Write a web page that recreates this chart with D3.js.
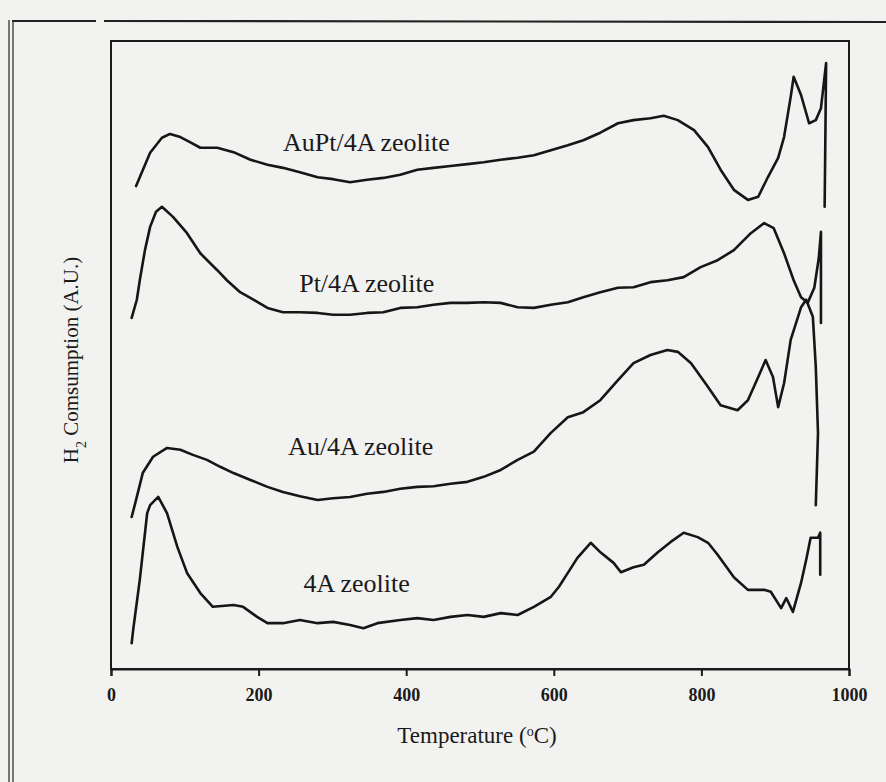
<!DOCTYPE html>
<html>
<head>
<meta charset="utf-8">
<script src="https://cdn.jsdelivr.net/npm/d3@7/dist/d3.min.js"></script>
<style>
  html, body { margin: 0; padding: 0; background: #f2f2f0; }
  svg { display: block; }
</style>
</head>
<body>
<div id="chart"></div>
<script>
// ---- data (temperature °C, H2 consumption A.U.) ----
const seriesNames = ["AuPt/4A zeolite", "Pt/4A zeolite", "Au/4A zeolite", "4A zeolite"];

const auptData = [
  [34,76.9],[39,78.3],[53,82.2],[69,84.6],[80,85.2],[94,84.7],[107,83.9],[121,83.0],
  [144,83.0],[166,82.3],[189,81.1],[212,80.3],[233,79.8],[256,79.1],[280,78.3],[301,78.0],
  [324,77.5],[347,77.9],[369,78.2],[392,78.7],[415,79.5],[437,79.8],[460,80.1],[483,80.4],
  [505,80.7],[528,81.1],[551,81.4],[573,81.8],[596,82.6],[619,83.4],[640,84.2],[663,85.4],
  [687,86.9],[708,87.4],[731,87.7],[749,88.1],[768,87.4],[790,85.8],[809,83.1],[826,79.5],
  [844,76.3],[863,74.7],[877,75.2],[890,78.3],[904,81.4],[912,84.7],[921,91.1],[925,94.3],
  [935,91.4],[946,86.9],[955,87.4],[962,89.3],[969,96.5],[967,73.6]
];

const ptData = [
  [28,55.9],[35,58.8],[39,61.9],[46,66.7],[53,70.4],[61,72.8],[69,73.6],[84,72.0],
  [103,69.4],[121,66.2],[144,63.5],[157,61.9],[175,60.0],[193,58.8],[212,57.5],[233,56.8],
  [256,56.8],[280,56.7],[301,56.4],[324,56.4],[347,56.7],[369,56.8],[392,57.5],[415,57.6],
  [437,58.0],[460,58.3],[483,58.3],[505,58.4],[528,58.3],[551,57.6],[573,57.5],[596,58.0],
  [619,58.4],[640,59.2],[663,60.0],[687,60.7],[708,60.8],[731,61.6],[754,61.9],[776,62.4],
  [799,64.0],[822,65.1],[844,66.7],[867,69.4],[885,71.0],[898,70.2],[912,66.2],[925,61.9],
  [935,59.2],[944,58.3],[953,60.7],[959,65.4],[962,69.6],[962,55.1]
];

const auData = [
  [28,24.2],[35,27.4],[43,31.2],[57,33.8],[76,35.2],[94,34.9],[111,34.1],[130,33.3],
  [148,32.2],[166,31.2],[189,30.1],[212,29.0],[233,28.2],[256,27.5],[280,26.9],[301,27.2],
  [324,27.4],[347,27.9],[369,28.2],[392,28.7],[415,29.0],[437,29.1],[460,29.5],[483,29.8],
  [505,30.6],[528,31.7],[551,33.3],[573,34.6],[596,37.6],[619,40.1],[640,40.9],[663,42.8],
  [687,46.0],[708,48.7],[731,50.0],[754,50.8],[768,50.5],[786,48.7],[809,44.9],[826,42.0],
  [849,41.2],[863,42.8],[877,46.5],[887,49.2],[897,46.5],[904,41.7],[912,45.5],[921,52.4],
  [935,57.6],[942,58.8],[951,56.1],[955,48.1],[958,37.6],[955,26.1]
];

const zeoData = [
  [28,4.1],[30,6.2],[39,14.2],[49,24.8],[53,26.1],[64,27.4],[76,24.8],[90,19.4],
  [103,15.3],[121,12.1],[138,9.9],[166,10.2],[179,9.9],[198,8.3],[212,7.3],[233,7.3],
  [256,7.8],[280,7.3],[301,7.5],[324,7.0],[342,6.5],[361,7.3],[392,7.8],[415,8.1],
  [437,7.8],[460,8.3],[483,8.6],[505,8.3],[528,8.9],[551,8.6],[573,9.9],[596,11.5],
  [607,13.1],[619,15.3],[632,17.7],[650,20.1],[664,18.5],[681,16.9],[691,15.4],[708,16.2],
  [722,16.6],[741,18.6],[758,20.2],[776,21.7],[795,21.0],[809,20.1],[822,18.2],[844,14.6],
  [863,12.6],[885,12.6],[894,12.3],[908,9.7],[915,11.3],[924,9.1],[935,13.7],[942,17.4],
  [948,20.9],[958,20.9],[961,21.7],[961,15.0]
];

// label anchor positions (temperature, A.U.) for the series names
const labelPos = [[233,82.5],[255,60.1],[240,34.0],[261,12.3]];

const xTicks = [0, 200, 400, 600, 800, 1000];
const xTitle = "Temperature (";
const yTitle = "Comsumption (A.U.)";

// ---- layout ----
const W = 886, H = 782;
const plot = { left: 111, right: 849, top: 41, bottom: 669 };

const svg = d3.select("#chart").append("svg")
  .attr("width", W).attr("height", H)
  .style("background", "#f2f2f0");

const x = d3.scaleLinear().domain([0, 1000]).range([plot.left, plot.right]);
const y = d3.scaleLinear().domain([0, 100]).range([plot.bottom, plot.top]);

// outer scan frame
svg.append("line").attr("x1", 12).attr("x2", 96).attr("y1", 21).attr("y2", 21)
  .attr("stroke", "#222").attr("stroke-width", 2.2);
svg.append("line").attr("x1", 104).attr("x2", 886).attr("y1", 21).attr("y2", 22)
  .attr("stroke", "#222").attr("stroke-width", 2.2);
svg.append("line").attr("x1", 9).attr("x2", 9).attr("y1", 20).attr("y2", H)
  .attr("stroke", "#333").attr("stroke-width", 1.3);
svg.append("line").attr("x1", 13).attr("x2", 13).attr("y1", 20).attr("y2", H)
  .attr("stroke", "#333").attr("stroke-width", 1.3);

// plot frame
svg.append("rect")
  .attr("x", plot.left).attr("y", plot.top)
  .attr("width", plot.right - plot.left).attr("height", plot.bottom - plot.top)
  .attr("fill", "none").attr("stroke", "#1a1a1a").attr("stroke-width", 2);

// x axis
const xAxis = d3.axisBottom(x).tickValues(xTicks).tickSize(7).tickPadding(12)
  .tickFormat(d3.format("d"));
const gx = svg.append("g").attr("transform", `translate(0,${plot.bottom})`).call(xAxis);
gx.select(".domain").attr("stroke", "#1a1a1a").attr("stroke-width", 2);
gx.selectAll(".tick line").attr("stroke", "#1a1a1a").attr("stroke-width", 2);
gx.selectAll(".tick text")
  .attr("fill", "#1a1a1a")
  .style("font-family", "'Liberation Serif', 'Times New Roman', serif")
  .style("font-weight", "bold")
  .style("font-size", "18px");

// curves
const line = d3.line().x(d => x(d[0])).y(d => y(d[1])).curve(d3.curveLinear);
const allSeries = [auptData, ptData, auData, zeoData];
svg.append("g").selectAll("path").data(allSeries).join("path")
  .attr("d", line)
  .attr("fill", "none")
  .attr("stroke", "#161616")
  .attr("stroke-width", 2.6)
  .attr("stroke-linejoin", "round")
  .attr("stroke-linecap", "round");

// series labels
svg.append("g").selectAll("text").data(seriesNames).join("text")
  .attr("x", (d, i) => x(labelPos[i][0]))
  .attr("y", (d, i) => y(labelPos[i][1]))
  .attr("fill", "#1a1a1a")
  .style("font-family", "'Liberation Serif', 'Times New Roman', serif")
  .style("font-size", "26px")
  .text(d => d);

// x title
const xt = svg.append("text")
  .attr("x", (plot.left + plot.right) / 2 - 3).attr("y", 743)
  .attr("text-anchor", "middle")
  .attr("fill", "#1a1a1a")
  .style("font-family", "'Liberation Serif', 'Times New Roman', serif")
  .style("font-size", "23px");
xt.append("tspan").text(xTitle);
xt.append("tspan").attr("baseline-shift", "super").style("font-size", "14px").text("o");
xt.append("tspan").text("C)");

// y title
const yt = svg.append("text")
  .attr("transform", `translate(78,${360}) rotate(-90)`)
  .attr("text-anchor", "middle")
  .attr("fill", "#1a1a1a")
  .style("font-family", "'Liberation Serif', 'Times New Roman', serif")
  .style("font-size", "21px");
yt.append("tspan").text("H");
yt.append("tspan").attr("baseline-shift", "sub").style("font-size", "14px").text("2");
yt.append("tspan").text(" " + yTitle);
</script>
</body>
</html>
